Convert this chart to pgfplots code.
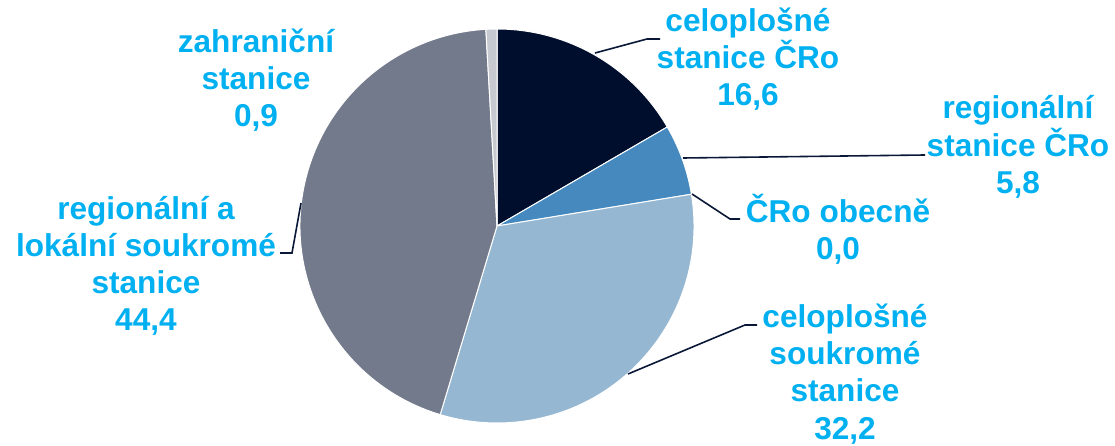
\documentclass[border=0pt]{standalone}
\usepackage{pgfplots}
\pgfplotsset{compat=1.18}
\usepackage{pgfplotstable}
\usepackage{fontspec}
\setmainfont{Liberation Sans}

\definecolor{sliceA}{HTML}{000E2E}
\definecolor{sliceB}{HTML}{4589BE}
\definecolor{sliceC}{HTML}{95B7D2}
\definecolor{sliceD}{HTML}{737A8B}
\definecolor{sliceE}{HTML}{C6C9D0}
\definecolor{lbl}{HTML}{00B0F0}
\definecolor{lead}{HTML}{0A1838}

% shares in %, clockwise from 12 o'clock
\pgfplotstableread{
value
16.6
5.8
0.0
32.2
44.4
0.9
}\piedata

\newcommand\getval[2]{\pgfplotstablegetelem{#1}{value}\of\piedata\global\let#2\pgfplotsretval}
\getval{0}\va \getval{1}\vb \getval{2}\vc
\getval{3}\vd \getval{4}\ve \getval{5}\vf
\pgfmathsetmacro\total{\va+\vb+\vc+\vd+\ve+\vf}
\pgfmathsetmacro\aA{90-360*\va/\total}
\pgfmathsetmacro\aB{\aA-360*\vb/\total}
\pgfmathsetmacro\aC{\aB-360*\vc/\total}
\pgfmathsetmacro\aD{\aC-360*\vd/\total}
\pgfmathsetmacro\aE{\aD-360*\ve/\total}
\pgfmathsetmacro\aF{\aE-360*\vf/\total}

\newcommand\num[1]{\pgfmathprintnumber[fixed,fixed zerofill,precision=1,use comma,assume math mode=true]{#1}}
\newcommand\slice[3]{%
  \fill[#1,draw=white,line width=0.5pt] (axis cs:497,219) -- ([shift={(#2:98.5pt)}]axis cs:497,219)
    arc[start angle=#2,end angle=#3,radius=98.5pt] -- cycle;}
\tikzset{lab/.style={text=lbl, align=center, inner sep=0pt,
    font=\fontsize{15.8}{18.6}\selectfont\bfseries}}

\begin{document}
\begin{tikzpicture}
\begin{axis}[
    x=0.5pt, y=0.5pt,
    xmin=0, xmax=1115, ymin=0, ymax=445,
    hide axis, clip=false,
]
\slice{sliceA}{90}{\aA}
\slice{sliceB}{\aA}{\aB}
\slice{sliceC}{\aC}{\aD}
\slice{sliceD}{\aD}{\aE}
\slice{sliceE}{\aE}{\aF}
% leader lines
\draw[lead, line width=0.8pt] (axis cs:595,392) -- (axis cs:647,406) -- (axis cs:660,406);
\draw[lead, line width=0.8pt] (axis cs:683,287) -- (axis cs:925,290);
\draw[lead, line width=0.8pt] (axis cs:692,251) -- (axis cs:730,226) -- (axis cs:740,226);
\draw[lead, line width=0.8pt] (axis cs:628,71) -- (axis cs:745,120) -- (axis cs:757,120);
\draw[lead, line width=0.8pt] (axis cs:301,242) -- (axis cs:292,192) -- (axis cs:280,192);
% labels
\node[lab] at (axis cs:748,386) {celoplošné\\stanice ČRo\\\num{\va}};
\node[lab] at (axis cs:1018,298) {regionální\\stanice ČRo\\\num{\vb}};
\node[lab] at (axis cs:838,216) {ČRo obecně\\\num{\vc}};
\node[lab] at (axis cs:845,71) {celoplošné\\soukromé\\stanice\\\num{\vd}};
\node[lab] at (axis cs:146,179) {regionální a\\lokální soukromé\\stanice\\\num{\ve}};
\node[lab] at (axis cs:256,365) {zahraniční\\stanice\\\num{\vf}};
\end{axis}
\pgfresetboundingbox
\path[use as bounding box] (current axis.south west) rectangle (current axis.north east);
\end{tikzpicture}
\end{document}
